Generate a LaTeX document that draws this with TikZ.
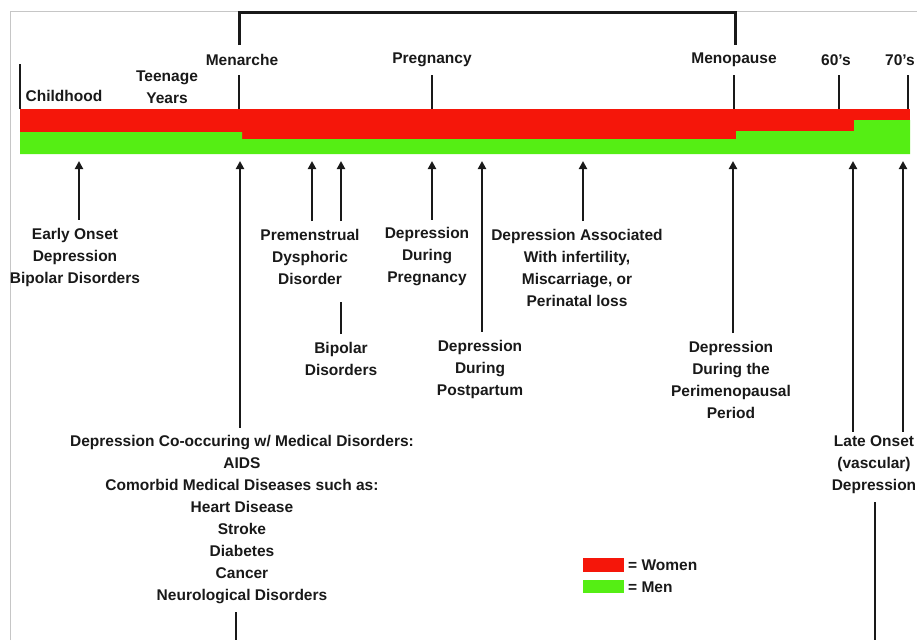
\documentclass[tikz,border=0pt]{standalone}
\usepackage{fontspec}
\setmainfont{Liberation Sans}
\usetikzlibrary{arrows.meta}
\definecolor{wred}{RGB}{245,22,10}
\definecolor{mgreen}{RGB}{85,238,20}
\definecolor{ink}{RGB}{25,25,25}
\begin{document}
\begin{tikzpicture}[x=1pt,y=-1pt,
  lbl/.style={font=\fontsize{15.5}{22}\selectfont\bfseries, align=center, inner xsep=2pt, inner ysep=8pt, text=ink},
  tickline/.style={line width=2.5pt, draw=ink},
  arr/.style={line width=2.5pt, draw=ink, -{Triangle[width=8pt,length=8pt]}},
  link/.style={line width=2.5pt, draw=ink}]
\useasboundingbox (0,0) rectangle (917,640);
% frame
\draw[gray!45, line width=1pt] (10,640) -- (10,11) -- (917,11);
% bar
\fill[wred] (20,109) rectangle (910,154);
\fill[mgreen] (20,132) -- (242,132) -- (242,139) -- (736,139) -- (736,131) -- (854,131) -- (854,120) -- (910,120) -- (910,154) -- (20,154) -- cycle;
% bracket Menarche - Menopause
\draw[line width=3pt, draw=ink] (239,45) -- (239,12) -- (735,12) -- (735,45);
% ticks
\draw[tickline] (20,64) -- (20,109);
\draw[tickline] (239,75) -- (239,109);
\draw[tickline] (432,75) -- (432,109);
\draw[tickline] (734,75) -- (734,109);
\draw[tickline] (839,75) -- (839,109);
\draw[tickline] (908,75) -- (908,109);
% top labels
\node[lbl] (child) at (64,96) {Childhood};
\node[lbl] (teen) at (167,87) {Teenage\\Years};
\node[lbl] (men) at (242,60) {Menarche};
\node[lbl] (preg) at (432,60) {Pregnancy};
\node[lbl] (meno) at (734,60) {Menopause};
\node[lbl] (s60) at (836,60) {60’s};
\node[lbl] (s70) at (900,60) {70’s};
% bar anchor points
\coordinate (bE) at (79,161);
\coordinate (bM) at (240,161);
\coordinate (bPM) at (312,161);
\coordinate (bB) at (341,161);
\coordinate (bP) at (432,161);
\coordinate (bPP) at (482,161);
\coordinate (bI) at (583,161);
\coordinate (bPe) at (733,161);
\coordinate (b60) at (853,161);
\coordinate (b70) at (903,161);
\coordinate (mdown) at (236,640);
\coordinate (ldown) at (875,640);
% lower labels
\node[lbl] (early) at (75,257) {Early Onset\\Depression\\Bipolar Disorders};
\node[lbl] (pmdd) at (310,257) {Premenstrual\\Dysphoric\\Disorder};
\node[lbl] (bip) at (341,359) {Bipolar\\Disorders};
\node[lbl] (pdep) at (427,257) {Depression\\During\\Pregnancy};
\node[lbl] (inf) at (577,268) {Depression Associated\\With infertility,\\Miscarriage, or\\Perinatal loss};
\node[lbl] (post) at (480,369) {Depression\\During\\Postpartum};
\node[lbl] (peri) at (731,380) {Depression\\During the\\Perimenopausal\\Period};
\node[lbl] (late) at (874,465) {Late Onset\\(vascular)\\Depression};
\node[lbl] (med) at (242,520) {Depression Co-occuring w/ Medical Disorders:\\AIDS\\Comorbid Medical Diseases such as:\\Heart Disease\\Stroke\\Diabetes\\Cancer\\Neurological Disorders};
% arrows
\draw[arr] (early.north -| bE) -- (bE);
\draw[arr] (med.north -| bM) -- (bM);
\draw[arr] (pmdd.north -| bPM) -- (bPM);
\draw[arr] (pmdd.north -| bB) -- (bB);
\draw[link] (bip.north) -- ++(0,-32);
\draw[arr] (pdep.north -| bP) -- (bP);
\draw[arr] (post.north -| bPP) -- (bPP);
\draw[arr] (inf.north -| bI) -- (bI);
\draw[arr] (peri.north -| bPe) -- (bPe);
\draw[arr, shorten <=-4pt] (late.north -| b60) -- (b60);
\draw[arr, shorten <=-4pt] (late.north -| b70) -- (b70);
\draw[link] (med.south -| mdown) -- (mdown);
\draw[link] (late.south -| ldown) -- (ldown);
% legend
\fill[wred] (583,558) rectangle (624,572);
\fill[mgreen] (583,580) rectangle (624,593);
\node[lbl, anchor=west, inner ysep=2pt] (lw) at (626,565) {= Women};
\node[lbl, anchor=west, inner ysep=2pt] (lm) at (626,587) {= Men};
\end{tikzpicture}
\end{document}
